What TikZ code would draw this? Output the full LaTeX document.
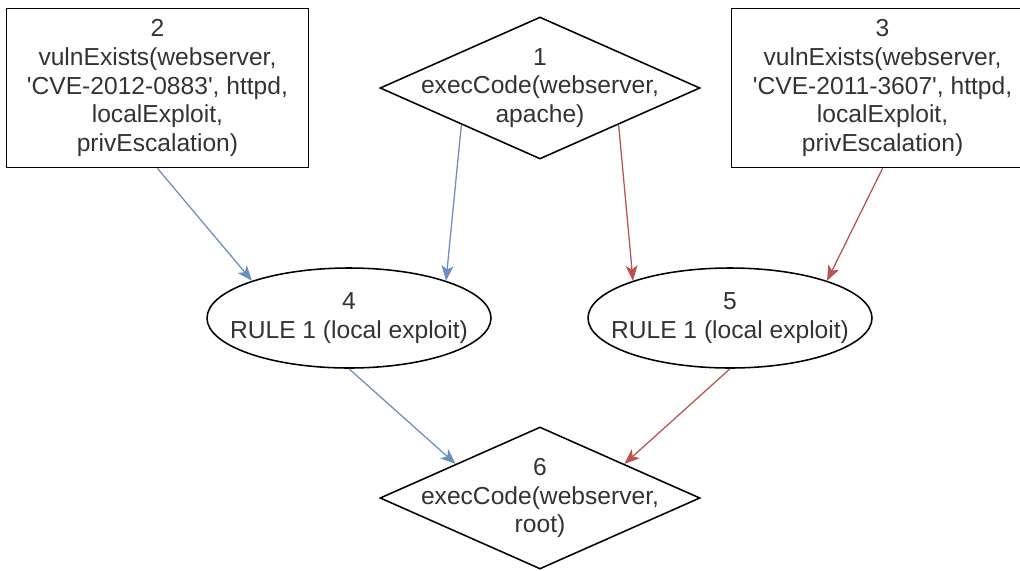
\documentclass[tikz,border=0pt]{standalone}
\usepackage{fontspec}
\setmainfont{Liberation Sans}
\usepackage{tikz}
\usetikzlibrary{shapes,arrows.meta,positioning}
\definecolor{edgeblue}{HTML}{6C8EBF}
\definecolor{edgered}{HTML}{B85450}
\tikzstyle{fact} = [rectangle, draw, line width=1.1pt, text=black!80,
align=center, minimum width=7.55cm, minimum height=3.98cm]
\tikzstyle{privnode} = [diamond, draw, line width=1.1pt, text=black!80,
align=center, shape aspect=2.25, inner ysep=0pt, inner xsep=-1.45cm,
minimum width=8cm, minimum height=3.55cm]
\tikzstyle{rulenode} = [ellipse, draw, line width=1.1pt, text=black!80,
align=center, inner ysep=0pt, inner xsep=-0.55cm,
minimum width=7.1cm, minimum height=2.5cm]
\tikzstyle{blueline} = [draw, edgeblue, line width=0.9pt,
-{Stealth[length=0.38cm, width=0.3cm, inset=0.1cm]}]
\tikzstyle{redline} = [draw, edgered, line width=0.9pt,
-{Stealth[length=0.38cm, width=0.3cm, inset=0.1cm]}]

\begin{document}
\begin{tikzpicture}[every node/.style={font=\fontsize{17.5}{20.3}\selectfont}]
	\useasboundingbox (0,0) rectangle (25.5,-14.25);

	% Top row: privilege goal and the two vulnerabilities
	\node [privnode] (exec1) at (13.5,-2.2) {1\\execCode(webserver,\\apache)};
	\node [fact, left=1.75cm of exec1] (vuln2) {2\\vulnExists(webserver,\\\textquotesingle CVE-2012-0883\textquotesingle, httpd,\\localExploit,\\privEscalation)};
	\node [fact, right=0.75cm of exec1] (vuln3) {3\\vulnExists(webserver,\\\textquotesingle CVE-2011-3607\textquotesingle, httpd,\\localExploit,\\privEscalation)};

	% Rule nodes
	\node [rulenode] (rule4) at (8.725,-7.95) {4\\RULE 1 (local exploit)};
	\node [rulenode] (rule5) at (18.25,-7.95) {5\\RULE 1 (local exploit)};

	% Resulting privilege
	\node [privnode] (exec6) at (13.5,-12.45) {6\\execCode(webserver,\\root)};

	% Edges
	\path [blueline] (vuln2.south) -- (rule4.159);
	\path [blueline] (exec1.205) -- (rule4.21);
	\path [redline] (exec1.-25) -- (rule5.159);
	\path [redline] (vuln3.south) -- (rule5.21);
	\path [blueline] (rule4.south) -- (exec6.158);
	\path [redline] (rule5.south) -- (exec6.22);

\end{tikzpicture}
\end{document}
